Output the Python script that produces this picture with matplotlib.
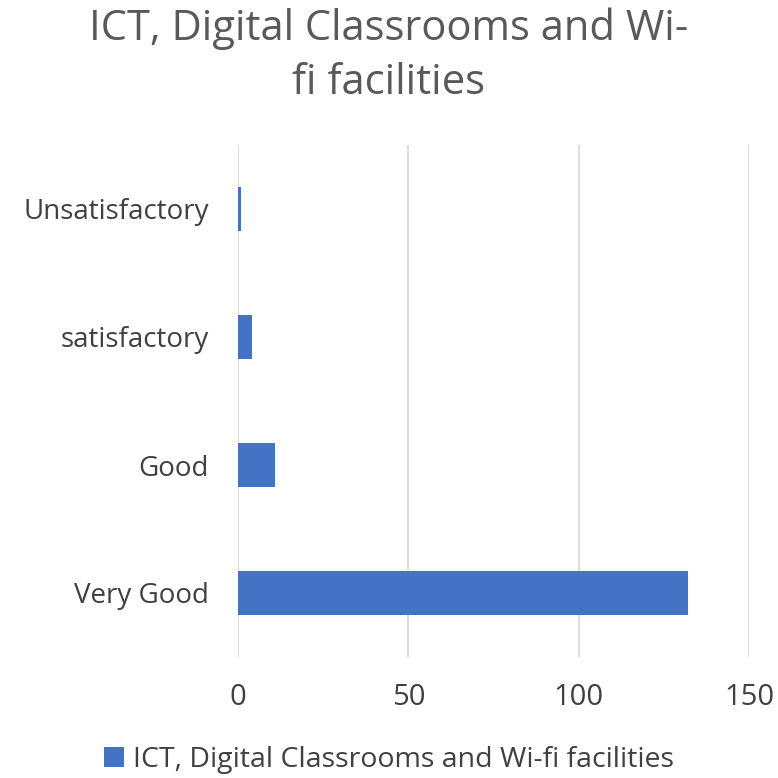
import matplotlib
matplotlib.use("Agg")
import matplotlib.pyplot as plt

categories = ["Very Good", "Good", "satisfactory", "Unsatisfactory"]
values = [132, 11, 4, 1]
series_name = "ICT, Digital Classrooms and Wi-fi facilities"
xticks = [0, 50, 100, 150]

plt.rcParams['font.family'] = ['Open Sans', 'DejaVu Sans']
fig = plt.figure(figsize=(7.78, 7.78), dpi=100)
ax = fig.add_axes([238/778, 1-657/778, (749-238)/778, (657-145)/778])

bars = ax.barh(range(len(categories)), values, height=0.35, color="#4472C4", label=series_name, zorder=3)
ax.set_yticks(range(len(categories)))
ax.set_yticklabels(categories, fontsize=20, color="#404040")
ax.set_xticks(xticks)
ax.set_xticklabels([str(t) for t in xticks], fontsize=21, color="#404040")
ax.set_xlim(0, 150)
ax.set_ylim(-0.5, 3.5)
ax.tick_params(axis='y', length=0, pad=21)
ax.tick_params(axis='x', length=0, pad=19)
for s in ax.spines.values():
    s.set_visible(False)
ax.grid(axis='x', color="#d9d9d9", linewidth=1.3, zorder=0)

fig.text(0.5, 1-56/778, "ICT, Digital Classrooms and Wi-\nfi facilities", ha="center", va="center",
         fontsize=30, color="#595959", linespacing=1.38)
fig.legend(handles=[bars], labels=[series_name], loc="center", bbox_to_anchor=(0.5, 1-760/778),
           frameon=False, fontsize=20.5, labelcolor="#404040", handlelength=0.7, handleheight=0.7, handletextpad=0.3)

fig.savefig("out.png", dpi=100)
